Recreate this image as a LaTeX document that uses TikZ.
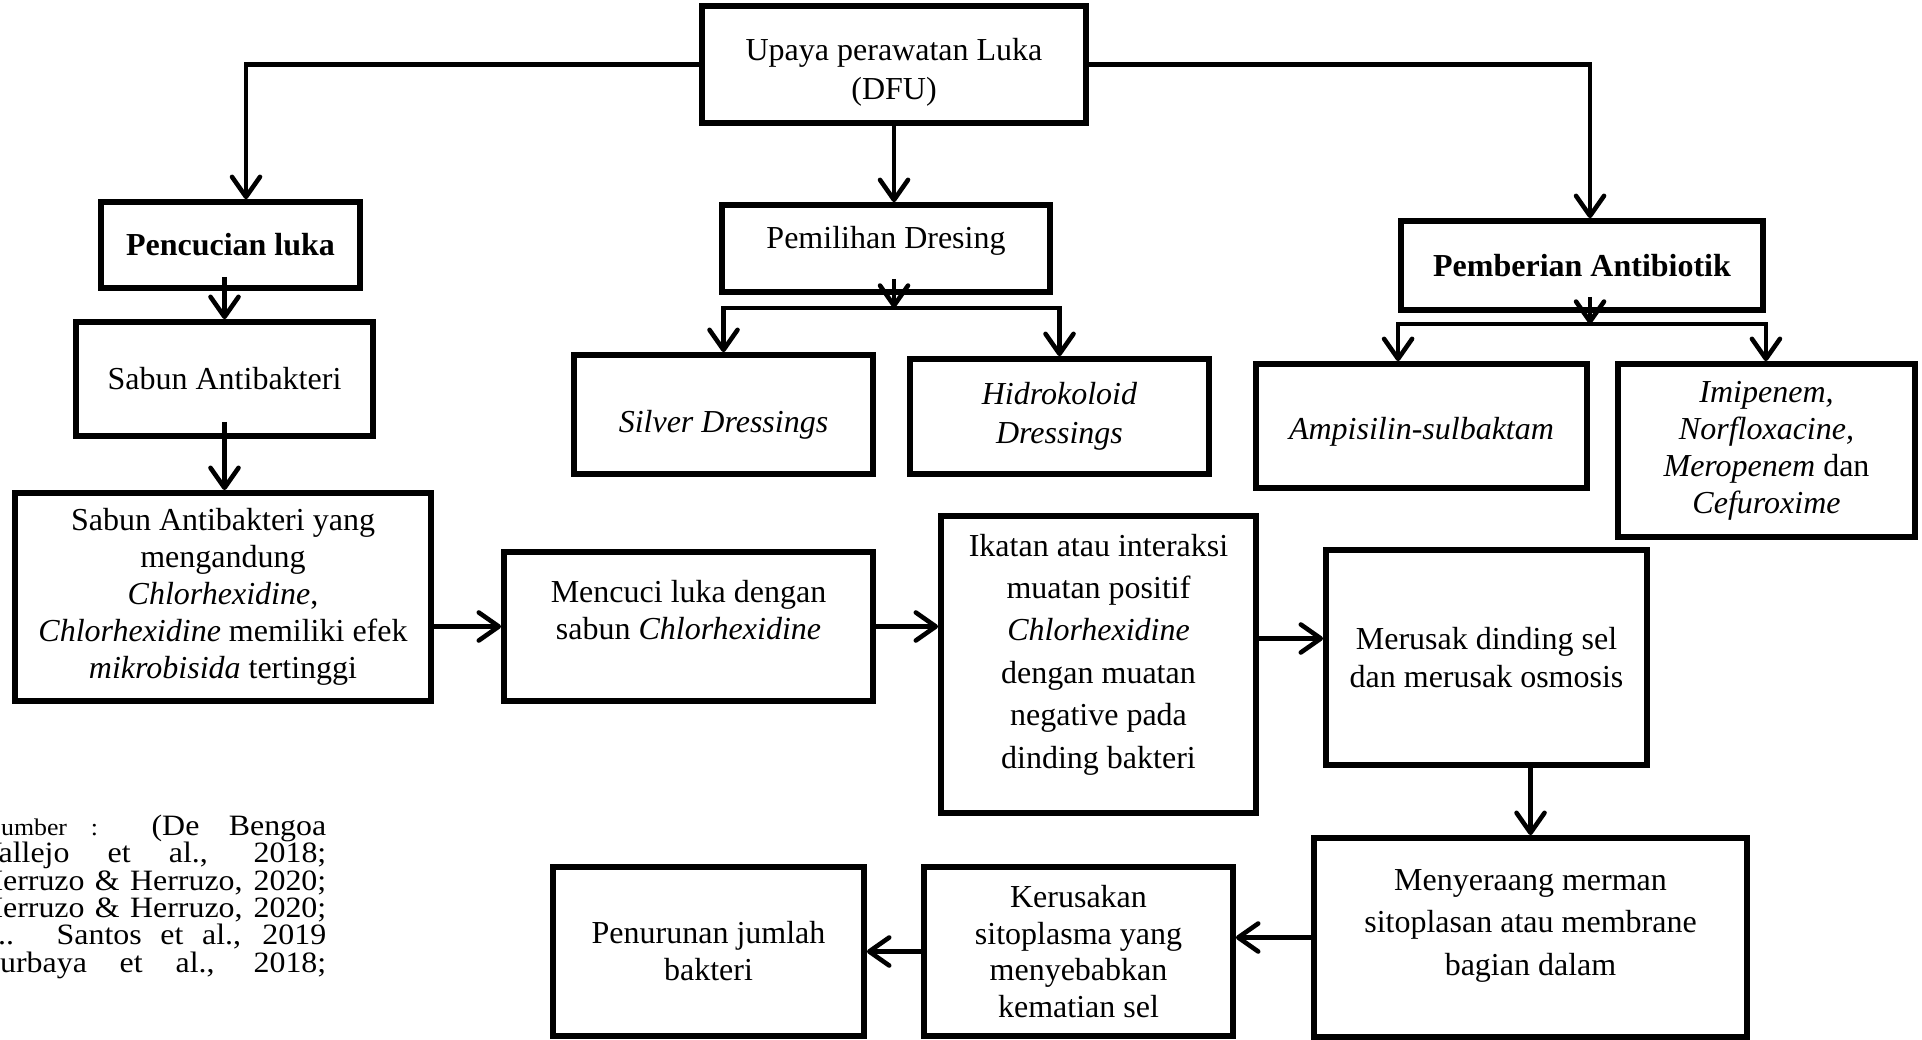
\documentclass[tikz,border=0pt]{standalone}
\usepackage{fontspec}
\setmainfont{Liberation Serif}
\newfontfamily\srcfont{Liberation Serif}[FakeStretch=1.08]
\usetikzlibrary{arrows.meta}

\begin{document}
\begin{tikzpicture}[x=0.01cm,y=-0.01cm,>={Straight Barb[length=0.2cm,width=0.28cm,round]},
  kotak/.style={draw,line width=1.6pt,align=center,inner sep=0pt,font=\fontsize{9.1}{10.5}\selectfont},
  panah/.style={->,line width=1.3pt}]
\useasboundingbox (0,0) rectangle (1922,1040);
\node [kotak,minimum width=3.84cm,minimum height=1.17cm,font=\fontsize{9.1}{11.1}\selectfont,text height=0.77cm] (upaya) at (894,64.5) {Upaya perawatan Luka\\(DFU)};
\node [kotak,minimum width=2.59cm,minimum height=0.86cm,font=\fontsize{9.1}{10.5}\selectfont\bfseries] (pencucian) at (230.5,245) {Pencucian luka};
\node [kotak,minimum width=2.97cm,minimum height=1.14cm] (sabun) at (224.5,379) {Sabun Antibakteri};
\node [kotak,minimum width=4.16cm,minimum height=2.08cm] (sabunyang) at (223,597) {Sabun Antibakteri yang\\mengandung\\\textit{Chlorhexidine},\\\textit{Chlorhexidine} memiliki efek\\\textit{mikrobisida} tertinggi};
\node [kotak,minimum width=3.28cm,minimum height=0.87cm,text height=0.22cm,text depth=0.22cm] (pemilihan) at (886,248.5) {Pemilihan Dresing};
\node [kotak,minimum width=2.99cm,minimum height=1.19cm,text height=0.42cm,text depth=0.07cm] (silver) at (723.5,414.5) {\textit{Silver Dressings}};
\node [kotak,minimum width=2.99cm,minimum height=1.15cm,font=\fontsize{9.1}{11.1}\selectfont] (hidrokoloid) at (1059.5,416.5) {\textit{Hidrokoloid}\\\textit{Dressings}};
\node [kotak,minimum width=3.62cm,minimum height=0.89cm,font=\fontsize{9.1}{10.5}\selectfont\bfseries] (antibiotik) at (1582,265.5) {Pemberian Antibiotik};
\node [kotak,minimum width=3.31cm,minimum height=1.24cm,text height=0.34cm,text depth=0.07cm] (ampisilin) at (1421.5,426) {\textit{Ampisilin-sulbaktam}};
\node [kotak,minimum width=2.97cm,minimum height=1.73cm] (imipenem) at (1766.5,450.5) {\textit{Imipenem,}\\\textit{Norfloxacine,}\\\textit{Meropenem} dan\\\textit{Cefuroxime}};
\node [kotak,minimum width=3.69cm,minimum height=1.49cm,text depth=0.34cm] (mencuci) at (688.5,626.5) {Mencuci luka dengan\\sabun \textit{Chlorhexidine}};
\node [kotak,minimum width=3.15cm,minimum height=2.97cm,font=\fontsize{9.1}{12.05}\selectfont,text depth=0.27cm] (ikatan) at (1098.5,664.5) {Ikatan atau interaksi\\muatan positif\\\textit{Chlorhexidine}\\dengan muatan\\negative pada\\dinding bakteri};
\node [kotak,minimum width=3.21cm,minimum height=2.15cm,font=\fontsize{9.1}{10.8}\selectfont] (merusak) at (1486.5,657.5) {Merusak dinding sel\\dan merusak osmosis};
\node [kotak,minimum width=4.33cm,minimum height=1.99cm,font=\fontsize{9.1}{12.05}\selectfont,text depth=0.3cm] (menyeraang) at (1530.5,937.5) {Menyeraang merman\\sitoplasan atau membrane\\bagian dalam};
\node [kotak,minimum width=3.09cm,minimum height=1.69cm,font=\fontsize{9.1}{10.4}\selectfont] (kerusakan) at (1078.5,951.5) {Kerusakan\\sitoplasma yang\\menyebabkan\\kematian sel};
\node [kotak,minimum width=3.11cm,minimum height=1.69cm] (penurunan) at (708.5,951.5) {Penurunan jumlah\\bakteri};
\begin{scope}
\clip (0,0) rectangle (1922,1040);
\node [anchor=north east,align=right,inner sep=0pt,font=\srcfont\fontsize{8.4}{7.8}\selectfont] (sumber) at (327,814) {\makebox[3.25cm][s]{{\fontsize{6.8}{7.8}\selectfont umber :} (De Bengoa}\\\makebox[3.47cm][s]{Vallejo et al., 2018;}\\\makebox[3.46cm][s]{Herruzo \& Herruzo, 2020;}\\\makebox[3.46cm][s]{Herruzo \& Herruzo, 2020;}\\\makebox[3.28cm][s]{.. Santos et al., 2019}\\\makebox[3.26cm][s]{urbaya et al., 2018;}};
\end{scope}
\draw [panah] (upaya.west) -| ([xshift=0.155cm]pencucian.north);
\draw [panah] (upaya.south) -- (upaya.south |- pemilihan.north);
\draw [panah] (upaya.east) -| ([xshift=0.08cm]antibiotik.north);
\draw [panah] ([yshift=0.14cm]sabun.north |- pencucian.south) -- (sabun.north);
\draw [panah] ([yshift=0.17cm]sabun.south) -- (sabun.south |- sabunyang.north);
\draw [panah] (sabunyang.east |- mencuci.west) -- (mencuci.west);
\draw [panah] (mencuci.east) -- (mencuci.east -| ikatan.west);
\coordinate (m1) at ([yshift=0.19cm]merusak.west);
\draw [panah] (ikatan.east |- m1) -- (m1);
\draw [panah] (merusak.south -| menyeraang.north) -- (menyeraang.north);
\draw [panah] (menyeraang.west) -- (menyeraang.west -| kerusakan.east);
\draw [panah] (kerusakan.west) -- (kerusakan.west -| penurunan.east);
\coordinate (bd) at ([yshift=-0.13cm]pemilihan.south);
\draw [panah] ([yshift=0.16cm]upaya.south |- pemilihan.south) -- (upaya.south |- bd);
\draw [<->,line width=1.3pt] (silver.north) -- (silver.north |- bd) -- (hidrokoloid.north |- bd) -- (hidrokoloid.north);
\coordinate (ba) at ([yshift=-0.11cm]antibiotik.south);
\draw [panah] ([yshift=0.16cm,xshift=0.08cm]antibiotik.south) -- ([xshift=0.08cm]ba);
\draw [<->,line width=1.3pt] (antibiotik.west |- ampisilin.north) -- (antibiotik.west |- ba) -- (antibiotik.east |- ba) -- (antibiotik.east |- imipenem.north);
\end{tikzpicture}
\end{document}
